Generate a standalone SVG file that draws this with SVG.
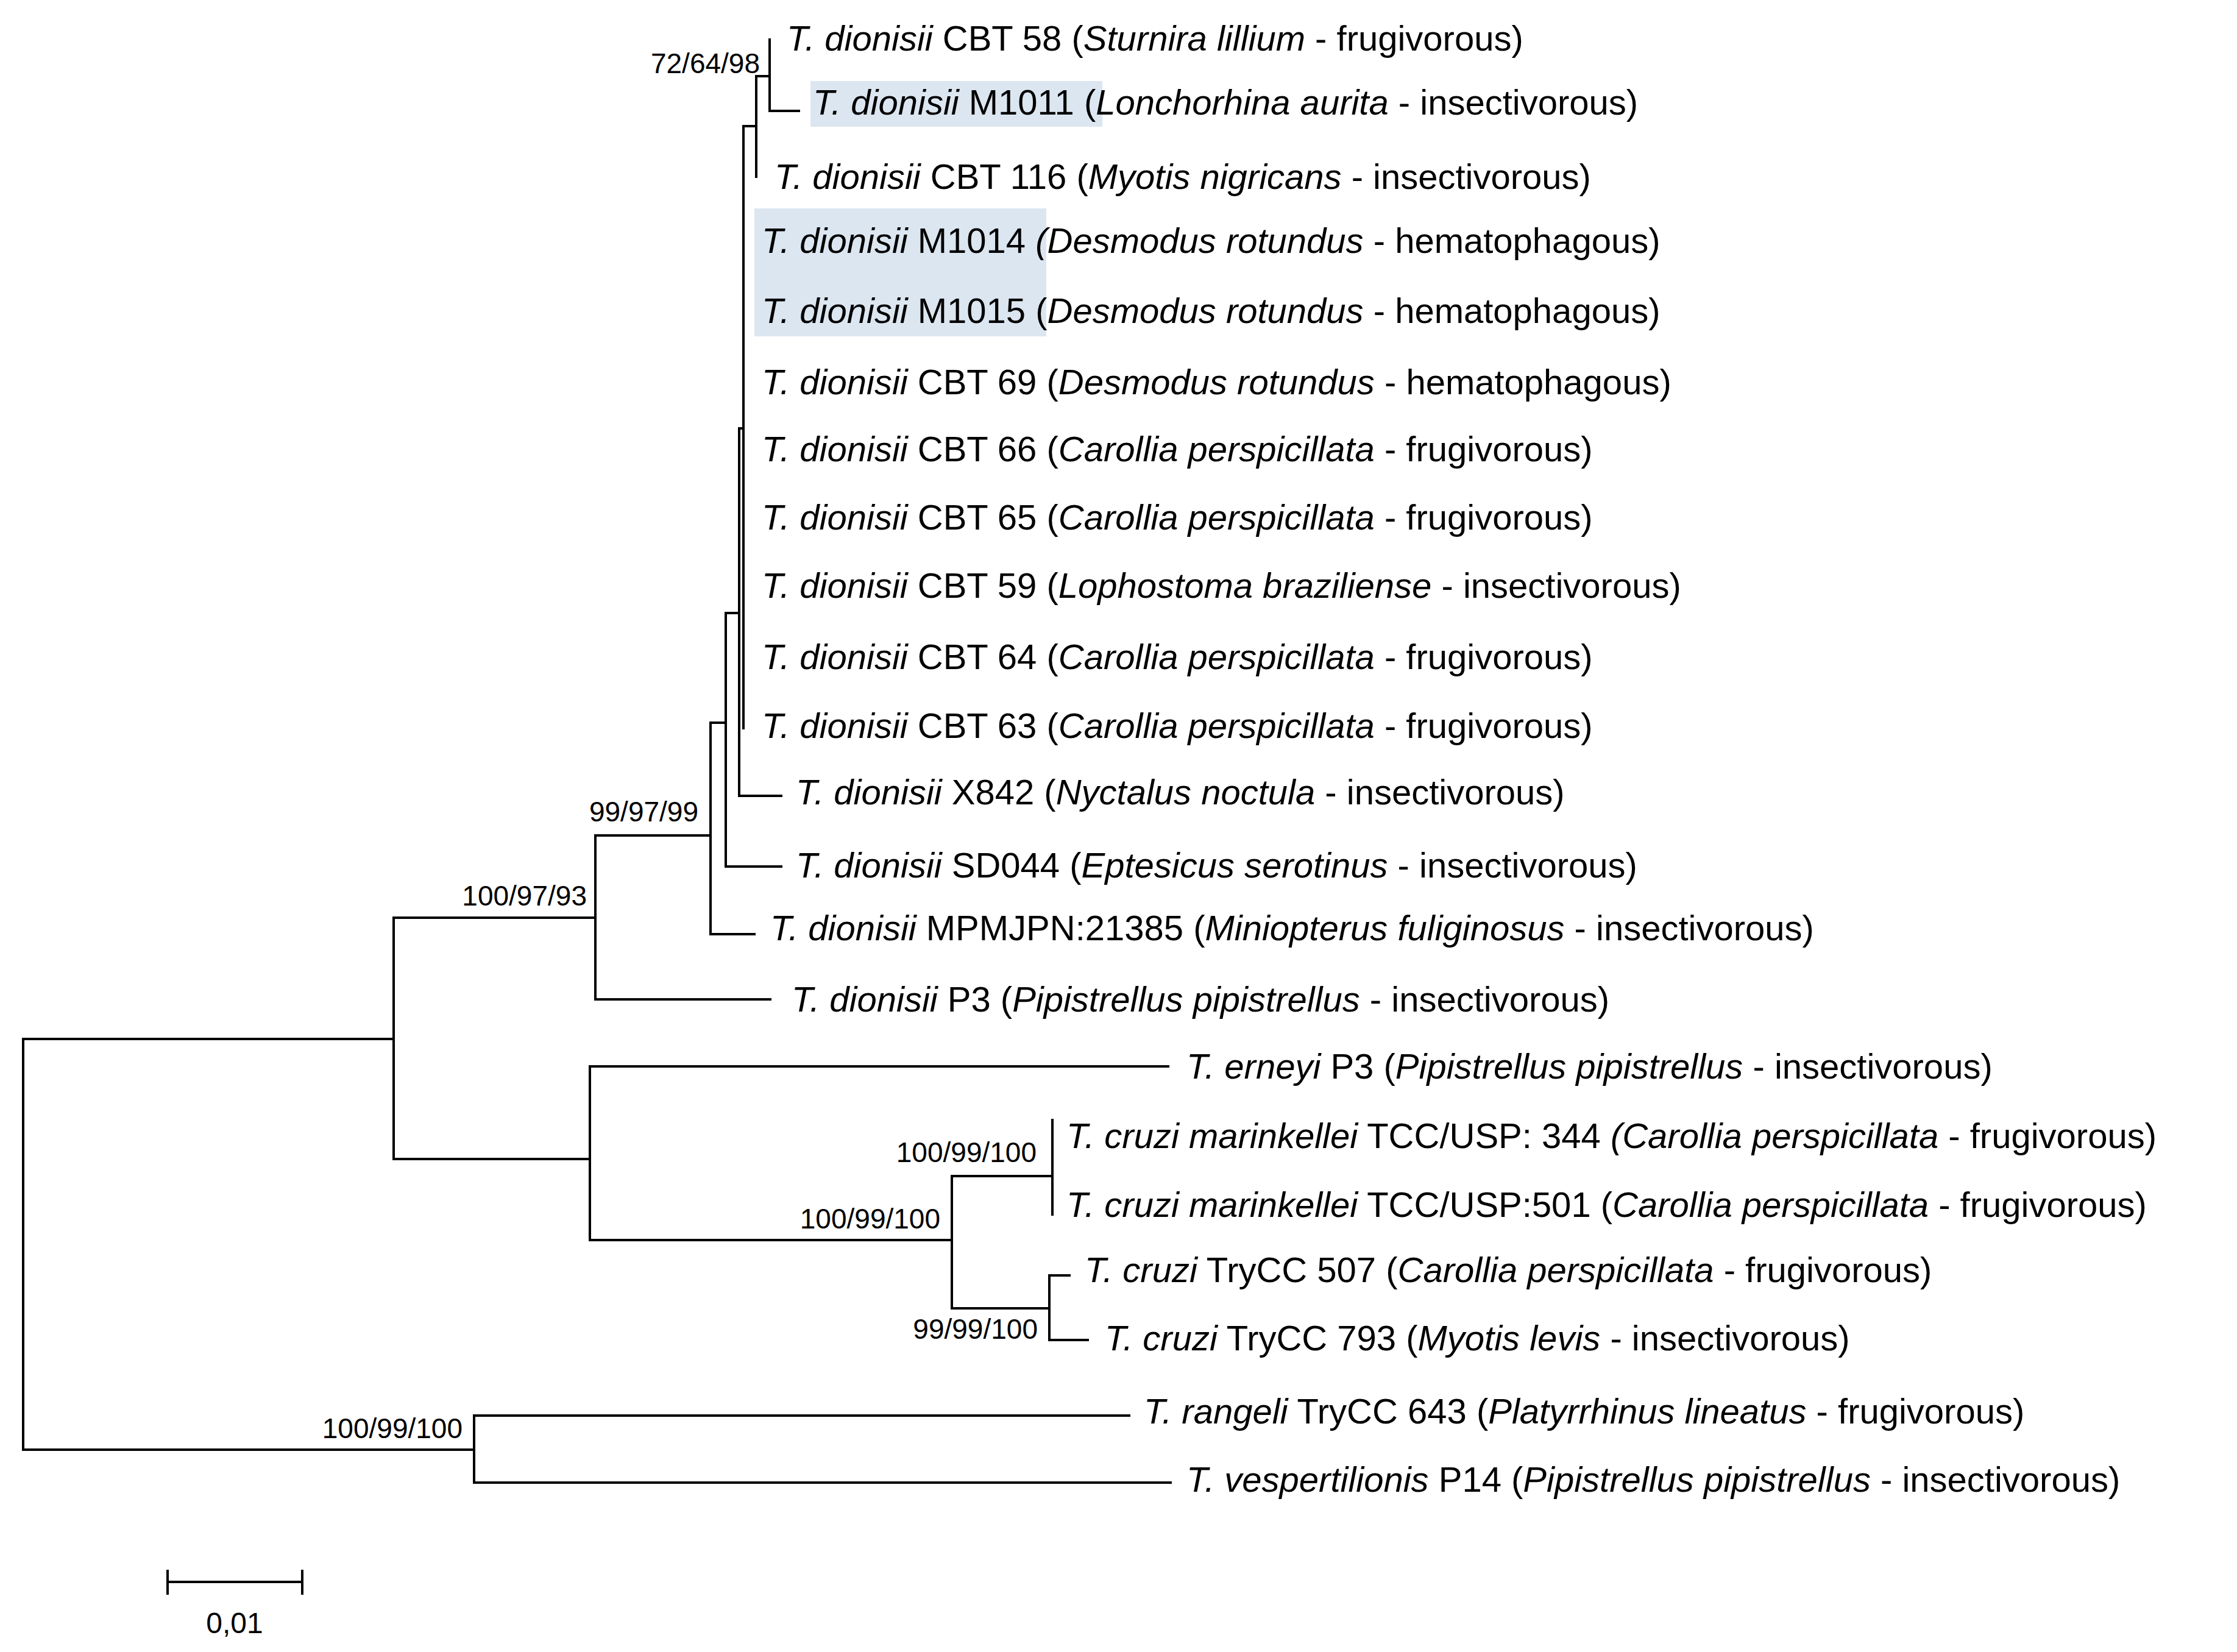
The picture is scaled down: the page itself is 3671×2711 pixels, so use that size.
<svg xmlns="http://www.w3.org/2000/svg" width="3671" height="2711" viewBox="0 0 3671 2711">
<style>
.t{font-family:"Liberation Sans",Arial,sans-serif;font-size:58px;fill:#000}
.i{font-style:italic}
.s{font-family:"Liberation Sans",Arial,sans-serif;font-size:46px;fill:#000;text-anchor:end}
.e{fill:none;stroke:#000;stroke-width:4;stroke-linecap:square}
.hl{fill:#dce6f1}
</style>
<rect width="3671" height="2711" fill="#fff"/>
<g id="highlights">
<rect class="hl" x="1330" y="133" width="479" height="75"/>
<rect class="hl" x="1238" y="342" width="479" height="210"/>
</g>
<g id="connectors">
<path class="e" d="M38 1705V2379M38 1705H646M38 2379H778"/>
<path class="e" d="M646 1506V1902M646 1506H977M646 1902H968"/>
<path class="e" d="M977 1371V1640M977 1371H1166M977 1640H1264"/>
<path class="e" d="M1166 1186V1533M1166 1186H1191M1166 1533H1238"/>
<path class="e" d="M1191 1006V1422M1191 1006H1213M1191 1422H1282"/>
<path class="e" d="M1213 703V1306M1213 703H1220M1213 1306H1282"/>
<path class="e" d="M1220 207V1195M1220 207H1241"/>
<path class="e" d="M1241 125V290M1241 125H1263"/>
<path class="e" d="M1263 65V182M1263 182H1311"/>
<path class="e" d="M968 1750V2035M968 1750H1917M968 2035H1562"/>
<path class="e" d="M1562 1930V2147M1562 1930H1727M1562 2147H1722"/>
<path class="e" d="M1727 1838V1993"/>
<path class="e" d="M1722 2093V2199M1722 2093H1755M1722 2199H1785"/>
<path class="e" d="M778 2323V2433M778 2323H1853M778 2433H1921"/>
</g>
<g id="supports">
<text class="s" x="1247" y="120">72/64/98</text>
<text class="s" x="1146" y="1348">99/97/99</text>
<text class="s" x="963" y="1486">100/97/93</text>
<text class="s" x="1701" y="1907">100/99/100</text>
<text class="s" x="1543" y="2016">100/99/100</text>
<text class="s" x="1703" y="2197">99/99/100</text>
<text class="s" x="759" y="2360">100/99/100</text>
</g>
<g id="n1"><text class="t" x="1291" y="83"><tspan class="i">T. dionisii</tspan> CBT 58 (<tspan class="i">Sturnira lillium</tspan> - frugivorous)</text></g>
<g id="n2"><text class="t" x="1334" y="188"><tspan class="i">T. dionisii</tspan> M1011 (<tspan class="i">Lonchorhina aurita</tspan> - insectivorous)</text></g>
<g id="n3"><text class="t" x="1271" y="310"><tspan class="i">T. dionisii</tspan> CBT 116 (<tspan class="i">Myotis nigricans</tspan> - insectivorous)</text></g>
<g id="n4"><text class="t" x="1250" y="415"><tspan class="i">T. dionisii</tspan> M1014 <tspan class="i">(Desmodus rotundus</tspan> - hematophagous)</text></g>
<g id="n5"><text class="t" x="1250" y="530"><tspan class="i">T. dionisii</tspan> M1015 (<tspan class="i">Desmodus rotundus</tspan> - hematophagous)</text></g>
<g id="n6"><text class="t" x="1250" y="647"><tspan class="i">T. dionisii</tspan> CBT 69 (<tspan class="i">Desmodus rotundus</tspan> - hematophagous)</text></g>
<g id="n7"><text class="t" x="1250" y="757"><tspan class="i">T. dionisii</tspan> CBT 66 (<tspan class="i">Carollia perspicillata</tspan> - frugivorous)</text></g>
<g id="n8"><text class="t" x="1250" y="869"><tspan class="i">T. dionisii</tspan> CBT 65 (<tspan class="i">Carollia perspicillata</tspan> - frugivorous)</text></g>
<g id="n9"><text class="t" x="1250" y="981"><tspan class="i">T. dionisii</tspan> CBT 59 (<tspan class="i">Lophostoma braziliense</tspan> - insectivorous)</text></g>
<g id="n10"><text class="t" x="1250" y="1098"><tspan class="i">T. dionisii</tspan> CBT 64 (<tspan class="i">Carollia perspicillata</tspan> - frugivorous)</text></g>
<g id="n11"><text class="t" x="1250" y="1211"><tspan class="i">T. dionisii</tspan> CBT 63 (<tspan class="i">Carollia perspicillata</tspan> - frugivorous)</text></g>
<g id="n12"><text class="t" x="1306" y="1320"><tspan class="i">T. dionisii</tspan> X842 (<tspan class="i">Nyctalus noctula</tspan> - insectivorous)</text></g>
<g id="n13"><text class="t" x="1306" y="1440"><tspan class="i">T. dionisii</tspan> SD044 (<tspan class="i">Eptesicus serotinus</tspan> - insectivorous)</text></g>
<g id="n14"><text class="t" x="1264" y="1543"><tspan class="i">T. dionisii</tspan> MPMJPN:21385 (<tspan class="i">Miniopterus fuliginosus</tspan> - insectivorous)</text></g>
<g id="n15"><text class="t" x="1299" y="1660"><tspan class="i">T. dionisii</tspan> P3 (<tspan class="i">Pipistrellus pipistrellus</tspan> - insectivorous)</text></g>
<g id="n16"><text class="t" x="1947" y="1770"><tspan class="i">T. erneyi</tspan> P3 (<tspan class="i">Pipistrellus pipistrellus</tspan> - insectivorous)</text></g>
<g id="n17"><text class="t" x="1750" y="1884"><tspan class="i">T. cruzi marinkellei</tspan> TCC/USP: 344 <tspan class="i">(Carollia perspicillata</tspan> - frugivorous)</text></g>
<g id="n18"><text class="t" x="1750" y="1997"><tspan class="i">T. cruzi marinkellei</tspan> TCC/USP:501 (<tspan class="i">Carollia perspicillata</tspan> - frugivorous)</text></g>
<g id="n19"><text class="t" x="1780" y="2104"><tspan class="i">T. cruzi</tspan> TryCC 507 (<tspan class="i">Carollia perspicillata</tspan> - frugivorous)</text></g>
<g id="n20"><text class="t" x="1813" y="2216"><tspan class="i">T. cruzi</tspan> TryCC 793 (<tspan class="i">Myotis levis</tspan> - insectivorous)</text></g>
<g id="n21"><text class="t" x="1877" y="2336"><tspan class="i">T. rangeli</tspan> TryCC 643 (<tspan class="i">Platyrrhinus lineatus</tspan> - frugivorous)</text></g>
<g id="n22"><text class="t" x="1947" y="2448"><tspan class="i">T. vespertilionis</tspan> P14 (<tspan class="i">Pipistrellus pipistrellus</tspan> - insectivorous)</text></g>
<g id="scalebar">
<path class="e" d="M275 2596H496M275 2578V2615M496 2578V2615"/>
<text class="t" x="385" y="2680" text-anchor="middle" style="font-size:48px">0,01</text>
</g>
</svg>
